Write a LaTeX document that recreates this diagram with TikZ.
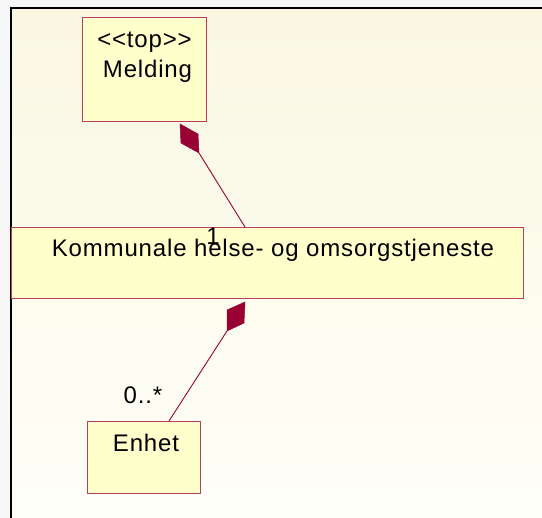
\documentclass[tikz,border=0pt]{standalone}
\usepackage{fontspec}
\setmainfont{Liberation Sans}[LetterSpace=3.5,Ligatures=NoCommon]
\definecolor{boxfill}{HTML}{FFFFCC}
\definecolor{boxline}{HTML}{B8405C}
\definecolor{maroon}{HTML}{990033}
\definecolor{outer}{HTML}{F7F7F7}
\definecolor{bgtop}{HTML}{F9F7E2}
\definecolor{bgbot}{HTML}{FFFFF8}
\begin{document}
\begin{tikzpicture}[x=1pt,y=-1pt,
  classbox/.style={draw=boxline,fill=boxfill,line width=0.9pt},
  lbl/.style={font=\fontsize{24}{28}\selectfont,inner sep=0pt,anchor=base},
  conn/.style={draw=maroon,line width=0.9pt},
  diam/.style={fill=maroon,draw=maroon,line width=0.5pt,line join=miter}]
\useasboundingbox (0,0) rectangle (542,518);
\fill[outer] (0,0) rectangle (542,518);
\shade[top color=bgtop,bottom color=bgbot] (11,8) rectangle (542,518);
\draw[line width=2pt,black] (11,518) -- (11,8) -- (542,8);
% boxes
\draw[classbox] (82,17) rectangle (206,121);
\draw[classbox] (11,227) rectangle (523,298);
\draw[classbox] (87,421) rectangle (200,493);
% texts
\node[lbl] (top) at (144.5,48) {<{}<top>{}>};
\node[lbl] (meld) at (147.5,78) {Melding};
\node[lbl] (komm) at (273,257) {Kommunale helse- og omsorgstjeneste};
\node[lbl] (enhet) at (146,452) {Enhet};
\node[lbl] (one) at (213,245) {1};
\node[lbl] (many) at (143,404) {0..*};
% connector 1
\coordinate (d1t) at (180,124);
\coordinate (d1r) at (198,134);
\coordinate (d1b) at (199,153);
\coordinate (d1l) at (181,143);
\coordinate (c1e) at (245,227);
\fill[diam] (d1t) -- (d1r) -- (d1b) -- (d1l) -- cycle;
\draw[conn] (d1b) -- (c1e);
% connector 2
\coordinate (d2t) at (245,302);
\coordinate (d2r) at (244,323);
\coordinate (d2b) at (227,331);
\coordinate (d2l) at (227,310);
\coordinate (c2e) at (169,421);
\fill[diam] (d2t) -- (d2r) -- (d2b) -- (d2l) -- cycle;
\draw[conn] (d2b) -- (c2e);
\end{tikzpicture}
\end{document}
